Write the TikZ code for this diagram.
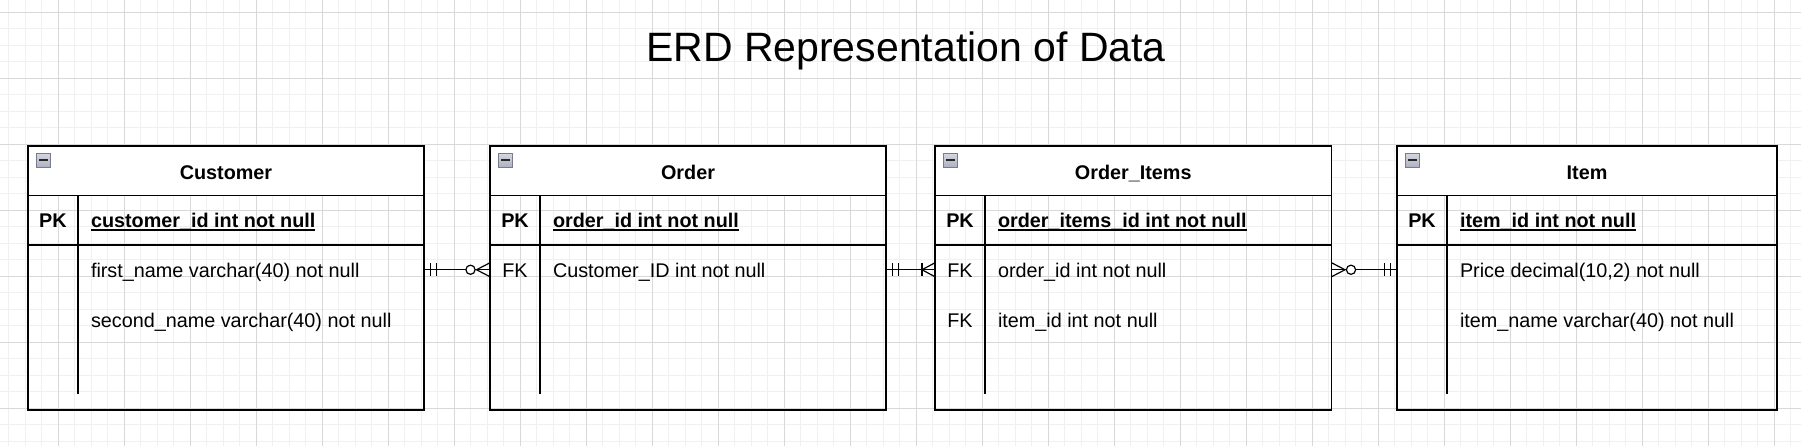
\documentclass[tikz,border=0pt]{standalone}
\usepackage{fontspec}
\setmainfont{Liberation Sans}
\usetikzlibrary{calc}
\definecolor{gridmajor}{RGB}{216,216,216}
\definecolor{gridminor}{RGB}{240,240,240}
\definecolor{iconfill}{RGB}{172,177,192}
\definecolor{icontop}{RGB}{212,215,224}
\definecolor{iconedge}{RGB}{120,124,138}

\newcommand\erdtable[9]{%
  \fill[white] (#2,146) rectangle ++(#3,49.5);
  \node[tbl, minimum width=#3pt, minimum height=264pt, anchor=north west] (#1) at (#2,146) {};
  \draw[tline] (#2,195.5) -- ++(#3,0);
  \draw[tline] (#2,245) -- ++(#3,0);
  \draw[tline] ({#2+50},195.5) -- ({#2+50},393.5);
  \node[icon] (#1-icon) at ({#2+15.3},160.3) {};
  \draw[line width=2pt, black!85] ($(#1-icon.center)+(-4.3,0)$) -- ($(#1-icon.center)+(4.3,0)$);
  \node[hdr, anchor=base] (#1-title) at ({#2+#3/2},179.3) {#4};
  \node[hdr, anchor=base] (#1-pk) at ({#2+25},227.7) {PK};
  \node[hdr, anchor=base west] (#1-pkf) at ({#2+63},227.7) {#5};
  \draw[line width=1.4pt] ([yshift=-2.2pt]#1-pkf.base west) -- ([yshift=-2.2pt]#1-pkf.base east);
  \node[txt, anchor=base] (#1-fk1) at ({#2+25},278) {#6};
  \node[txt, anchor=base west] (#1-f1) at ({#2+63},278) {#7};
  \node[txt, anchor=base] (#1-fk2) at ({#2+25},327.3) {#8};
  \node[txt, anchor=base west] (#1-f2) at ({#2+63},327.3) {#9};
}
% mandatory one: two bars near the box edge, #2 = direction away from box
\newcommand\mandone[2]{%
  \draw[conn] ($(#1)+({#2*6.5},-6.5)$) -- ($(#1)+({#2*6.5},6.5)$);
  \draw[conn] ($(#1)+({#2*12.5},-6.5)$) -- ($(#1)+({#2*12.5},6.5)$);
}
% zero or many: crow's foot + circle
\newcommand\zeromany[2]{%
  \draw[conn] ($(#1)+(0,-7)$) -- ($(#1)+({#2*13.5},0)$) -- ($(#1)+(0,7)$);
  \draw[conn, fill=white] ($(#1)+({#2*19.5},0)$) circle[radius=4.6pt];
}
% one or many: crow's foot + bar
\newcommand\onemany[2]{%
  \draw[conn] ($(#1)+(0,-7)$) -- ($(#1)+({#2*13},0)$) -- ($(#1)+(0,7)$);
  \draw[conn] ($(#1)+({#2*13},-6.5)$) -- ($(#1)+({#2*13},6.5)$);
}

\begin{document}
\begin{tikzpicture}[x=1pt,y=-1pt,
  txt/.style={inner sep=0pt, outer sep=0pt, font=\fontsize{19.8}{24}\selectfont},
  hdr/.style={txt, font=\fontsize{19.8}{24}\selectfont\bfseries},
  titletxt/.style={inner sep=0pt, outer sep=0pt, font=\fontsize{41}{49}\selectfont},
  tbl/.style={draw=black, line width=1.65pt, inner sep=0pt, outer sep=0pt},
  tline/.style={draw=black, line width=1.5pt},
  conn/.style={draw=black, line width=1.2pt},
  icon/.style={draw=iconedge, line width=0.9pt, top color=icontop, bottom color=iconfill, minimum size=14pt, inner sep=0pt, outer sep=0pt},
  gmin/.style={draw=gridminor, line width=1pt},
  gmaj/.style={draw=gridmajor, line width=1pt}]
\useasboundingbox (0,0) rectangle (1801,446);
\fill[white] (0,0) rectangle (1801,446);
% grid
\foreach \i in {0,...,108} \draw[gmin] ({8.8+16.5*\i},0) -- ({8.8+16.5*\i},446);
\foreach \i in {0,...,26} \draw[gmin] (0,{12.4+16.5*\i}) -- (1801,{12.4+16.5*\i});
\foreach \i in {0,...,26} \draw[gmaj] ({58.3+66*\i},0) -- ({58.3+66*\i},446);
\foreach \i in {0,...,6} \draw[gmaj] (0,{12.4+66*\i}) -- (1801,{12.4+66*\i});

\node[titletxt, anchor=base] (title) at (906,61.7) {ERD Representation of Data};

\erdtable{cust}{28}{396}{Customer}{customer\_id int not null}{}{first\_name varchar(40) not null}{}{second\_name varchar(40) not null}
\erdtable{ord}{490}{396}{Order}{order\_id int not null}{FK}{Customer\_ID int not null}{}{}
\erdtable{oi}{935}{396.5}{Order\_Items}{order\_items\_id int not null}{FK}{order\_id int not null}{FK}{item\_id int not null}
\erdtable{item}{1397}{380}{Item}{item\_id int not null}{}{Price decimal(10,2) not null}{}{item\_name varchar(40) not null}

% connectors
\coordinate (ry) at (0,269.75);
\coordinate (c1a) at (cust.east |- ry);
\coordinate (c1b) at (ord.west |- ry);
\coordinate (c2a) at (ord.east |- ry);
\coordinate (c2b) at (oi.west |- ry);
\coordinate (c3a) at (oi.east |- ry);
\coordinate (c3b) at (item.west |- ry);
\draw[conn] (c1a) -- (c1b);
\mandone{c1a}{1}
\zeromany{c1b}{-1}
\draw[conn] (c2a) -- (c2b);
\mandone{c2a}{1}
\onemany{c2b}{-1}
\draw[conn] (c3a) -- (c3b);
\zeromany{c3a}{1}
\mandone{c3b}{-1}
\end{tikzpicture}
\end{document}
